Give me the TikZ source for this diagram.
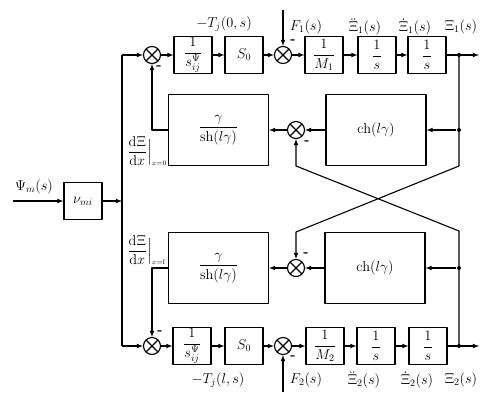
\documentclass[tikz,border=0pt]{standalone}
\usepackage{amsmath}
\begin{document}
\begin{tikzpicture}[>=latex,line join=bevel,line width=1.1bp,
  font=\fontsize{14}{16}\selectfont,
  blk/.style={draw,minimum width=38bp,minimum height=37bp,inner sep=0bp},
  bigblk/.style={draw,minimum width=100bp,minimum height=71bp,inner sep=1bp},
  sumnode/.style={draw,circle,minimum size=17bp,inner sep=0pt,
    path picture={\draw (path picture bounding box.north west) -- (path picture bounding box.south east)
      (path picture bounding box.north east) -- (path picture bounding box.south west);}},
  jdot/.style={circle,fill,inner sep=0pt,minimum size=4bp},
  lbl/.style={inner sep=0bp},
  neg/.style={inner sep=0bp,font=\fontsize{14}{16}\selectfont\bfseries}]
%%
\useasboundingbox (0bp,0bp) rectangle (496bp,401bp);
% input side
\coordinate (psi_in) at (13bp,200bp);
\node (nu_mi) at (83bp,200bp) [blk] {$\nu_{mi}$};
\coordinate (split_l) at (122bp,200bp);
\coordinate (corner_tl) at (122bp,346bp);
\coordinate (corner_bl) at (122bp,55bp);
% upper chain
\node (sum_1) at (152bp,346bp) [sumnode] {};
\node (inv_1) at (193bp,346bp) [blk] {$\dfrac{1}{s_{ij}^{\Psi}}$};
\node (s0_1) at (244bp,346bp) [blk] {$S_0$};
\node (sum_2) at (283bp,346bp) [sumnode] {};
\node (mass_1) at (324bp,346bp) [blk] {$\dfrac{1}{M_1}$};
\node (int_1a) at (377bp,346bp) [blk] {$\dfrac{1}{s}$};
\node (int_1b) at (427bp,346bp) [blk] {$\dfrac{1}{s}$};
\node (dot_t1) at (459bp,346bp) [jdot] {};
\coordinate (out_1) at (479bp,346bp);
\coordinate (f1_in) at (283bp,391bp);
% lower chain
\node (sum_5) at (152bp,55bp) [sumnode] {};
\node (inv_2) at (192bp,55bp) [blk] {$\dfrac{1}{s_{ij}^{\Psi}}$};
\node (s0_2) at (244bp,55bp) [blk] {$S_0$};
\node (sum_6) at (283bp,55bp) [sumnode] {};
\node (mass_2) at (325bp,55bp) [blk] {$\dfrac{1}{M_2}$};
\node (int_2a) at (376bp,55bp) [blk] {$\dfrac{1}{s}$};
\node (int_2b) at (428bp,55bp) [blk] {$\dfrac{1}{s}$};
\node (dot_b1) at (459bp,55bp) [jdot] {};
\coordinate (out_2) at (479bp,55bp);
\coordinate (f2_in) at (283bp,9bp);
% feedback blocks
\node (gam_1) at (218.5bp,271bp) [bigblk] {$\dfrac{\gamma}{\mathrm{sh}(l\gamma)}$};
\node (sum_3) at (296bp,271bp) [sumnode] {};
\node (ch_1) at (376bp,271bp) [bigblk] {$\mathrm{ch}(l\gamma)$};
\node (dot_m1) at (459bp,271bp) [jdot] {};
\node (gam_2) at (218.5bp,133bp) [bigblk] {$\dfrac{\gamma}{\mathrm{sh}(l\gamma)}$};
\node (sum_4) at (296bp,133bp) [sumnode] {};
\node (ch_2) at (375bp,133bp) [bigblk] {$\mathrm{ch}(l\gamma)$};
\node (dot_m2) at (459bp,133bp) [jdot] {};
\coordinate (cr_1a) at (459bp,235bp);
\coordinate (cr_1b) at (296bp,169bp);
\coordinate (cr_2a) at (459bp,170bp);
\coordinate (cr_2b) at (296bp,235bp);
% labels
\node (lbl_psi) at (34bp,214bp) [lbl] {$\Psi_m(s)$};
\node (lbl_d0) at (127bp,250bp) [lbl,anchor=west] {$\dfrac{\mathrm{d}\Xi}{\mathrm{d}x}\Big|_{\scriptscriptstyle x=0}$};
\node (lbl_dl) at (127bp,151bp) [lbl,anchor=west] {$\dfrac{\mathrm{d}\Xi}{\mathrm{d}x}\Big|_{\scriptscriptstyle x=l}$};
\node (lbl_t0) at (224bp,377bp) [lbl] {$-T_j(0,s)$};
\node (lbl_f1) at (306bp,374bp) [lbl] {$F_1(s)$};
\node (lbl_a1) at (365bp,374bp) [lbl] {$\ddot{\Xi}_1(s)$};
\node (lbl_v1) at (415bp,374bp) [lbl] {$\dot{\Xi}_1(s)$};
\node (lbl_x1) at (461bp,374bp) [lbl] {$\Xi_1(s)$};
\node (lbl_tl) at (218bp,21bp) [lbl] {$-T_j(l,s)$};
\node (lbl_f2) at (306bp,21bp) [lbl] {$F_2(s)$};
\node (lbl_a2) at (364bp,21bp) [lbl] {$\ddot{\Xi}_2(s)$};
\node (lbl_v2) at (417bp,21bp) [lbl] {$\dot{\Xi}_2(s)$};
\node (lbl_x2) at (461bp,21bp) [lbl] {$\Xi_2(s)$};
\node (neg_1) at (159bp,333bp) [neg] {-};
\node (neg_2) at (293bp,359bp) [neg] {-};
\node (neg_3) at (307bp,258bp) [neg] {-};
\node (neg_4) at (306bp,146bp) [neg] {-};
\node (neg_5) at (160bp,68bp) [neg] {-};
\node (neg_6) at (293bp,43bp) [neg] {-};
% connectors
\draw [black,->] (psi_in) -- (nu_mi);
\draw [black,->] (nu_mi) -- (split_l);
\draw [black] (corner_tl) -- (corner_bl);
\draw [black,->] (corner_tl) -- (sum_1);
\draw [black,->] (corner_bl) -- (sum_5);
\draw [black,->] (sum_1) -- (inv_1);
\draw [black,->] (inv_1) -- (s0_1);
\draw [black,->] (s0_1) -- (sum_2);
\draw [black,->] (f1_in) -- (sum_2);
\draw [black,->] (sum_2) -- (mass_1);
\draw [black,->] (mass_1) -- (int_1a);
\draw [black,->] (int_1a) -- (int_1b);
\draw [black,->] (int_1b) -- (dot_t1.center) -- (out_1);
\draw [black,->] (sum_5) -- (inv_2);
\draw [black,->] (inv_2) -- (s0_2);
\draw [black,->] (s0_2) -- (sum_6);
\draw [black,->] (f2_in) -- (sum_6);
\draw [black,->] (sum_6) -- (mass_2);
\draw [black,->] (mass_2) -- (int_2a);
\draw [black,->] (int_2a) -- (int_2b);
\draw [black,->] (int_2b) -- (dot_b1.center) -- (out_2);
\draw [black,->] (dot_m1) -- (ch_1);
\draw [black,->] (ch_1) -- (sum_3);
\draw [black,->] (sum_3) -- (gam_1);
\draw [black,->] (gam_1) -| (sum_1);
\draw [black,->] (dot_m2) -- (ch_2);
\draw [black,->] (ch_2) -- (sum_4);
\draw [black,->] (sum_4) -- (gam_2);
\draw [black,->] (gam_2) -| (sum_5);
\draw [black,->] (dot_t1.center) -- (cr_1a) -- (cr_1b) -- (sum_4);
\draw [black,->] (dot_b1.center) -- (cr_2a) -- (cr_2b) -- (sum_3);
%
\end{tikzpicture}
\end{document}
